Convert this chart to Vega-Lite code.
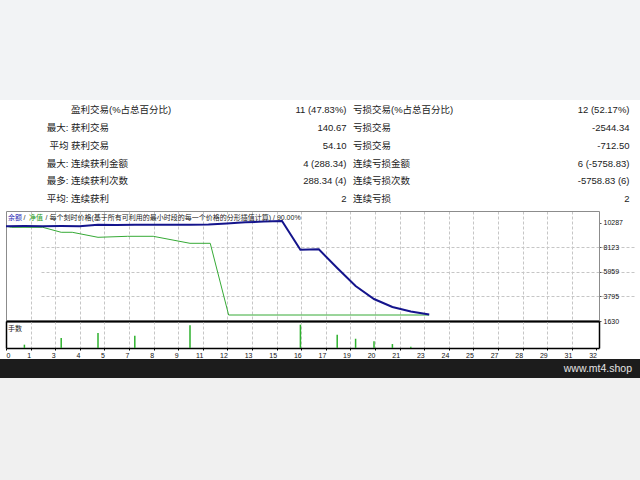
{
  "$schema": "https://vega.github.io/schema/vega-lite/v6.json",
  "background": "white",
  "padding": 0,
  "bounds": "flush",
  "spacing": 0,
  "config": {
    "view": {"stroke": null},
    "font": "Liberation Sans, Noto Sans CJK SC",
    "text": {"font": "Liberation Sans, Noto Sans CJK SC"}
  },
  "datasets": {
    "table": [
      {"row": 1, "col": 2, "text": "盈利交易(%占总百分比)"},
      {"row": 1, "col": 3, "text": "11 (47.83%)"},
      {"row": 1, "col": 4, "text": "亏损交易(%占总百分比)"},
      {"row": 1, "col": 5, "text": "12 (52.17%)"},
      {"row": 2, "col": 1, "text": "最大:"},
      {"row": 2, "col": 2, "text": "获利交易"},
      {"row": 2, "col": 3, "text": "140.67"},
      {"row": 2, "col": 4, "text": "亏损交易"},
      {"row": 2, "col": 5, "text": "-2544.34"},
      {"row": 3, "col": 1, "text": "平均"},
      {"row": 3, "col": 2, "text": "获利交易"},
      {"row": 3, "col": 3, "text": "54.10"},
      {"row": 3, "col": 4, "text": "亏损交易"},
      {"row": 3, "col": 5, "text": "-712.50"},
      {"row": 4, "col": 1, "text": "最大:"},
      {"row": 4, "col": 2, "text": "连续获利金额"},
      {"row": 4, "col": 3, "text": "4 (288.34)"},
      {"row": 4, "col": 4, "text": "连续亏损金额"},
      {"row": 4, "col": 5, "text": "6 (-5758.83)"},
      {"row": 5, "col": 1, "text": "最多:"},
      {"row": 5, "col": 2, "text": "连续获利次数"},
      {"row": 5, "col": 3, "text": "288.34 (4)"},
      {"row": 5, "col": 4, "text": "连续亏损次数"},
      {"row": 5, "col": 5, "text": "-5758.83 (6)"},
      {"row": 6, "col": 1, "text": "平均:"},
      {"row": 6, "col": 2, "text": "连续获利"},
      {"row": 6, "col": 3, "text": "2"},
      {"row": 6, "col": 4, "text": "连续亏损"},
      {"row": 6, "col": 5, "text": "2"}
    ],
    "curve": [
      {"series": "净值", "trade": 0, "value": 10000},
      {"series": "净值", "trade": 0.3, "value": 9905},
      {"series": "净值", "trade": 2.0, "value": 9905},
      {"series": "净值", "trade": 3.0, "value": 9466},
      {"series": "净值", "trade": 3.6, "value": 9466},
      {"series": "净值", "trade": 5.0, "value": 9024},
      {"series": "净值", "trade": 6.6, "value": 9112},
      {"series": "净值", "trade": 8.0, "value": 9112},
      {"series": "净值", "trade": 10.0, "value": 8494},
      {"series": "净值", "trade": 11.1, "value": 8494},
      {"series": "净值", "trade": 12.1, "value": 2160},
      {"series": "净值", "trade": 23.0, "value": 2160},
      {"series": "余额", "trade": 0, "value": 10000},
      {"series": "余额", "trade": 1, "value": 10012},
      {"series": "余额", "trade": 2, "value": 10004},
      {"series": "余额", "trade": 3, "value": 10020},
      {"series": "余额", "trade": 4, "value": 10008},
      {"series": "余额", "trade": 5, "value": 10125},
      {"series": "余额", "trade": 6, "value": 10118},
      {"series": "余额", "trade": 7, "value": 10134},
      {"series": "余额", "trade": 8, "value": 10122},
      {"series": "余额", "trade": 9, "value": 10140},
      {"series": "余额", "trade": 10, "value": 10132},
      {"series": "余额", "trade": 11, "value": 10150},
      {"series": "余额", "trade": 12, "value": 10245},
      {"series": "余额", "trade": 13, "value": 10345},
      {"series": "余额", "trade": 14, "value": 10410},
      {"series": "余额", "trade": 15, "value": 10465},
      {"series": "余额", "trade": 16, "value": 7921},
      {"series": "余额", "trade": 17, "value": 7964},
      {"series": "余额", "trade": 18, "value": 6312},
      {"series": "余额", "trade": 19, "value": 4722},
      {"series": "余额", "trade": 20, "value": 3573},
      {"series": "余额", "trade": 21, "value": 2867},
      {"series": "余额", "trade": 22, "value": 2469},
      {"series": "余额", "trade": 23, "value": 2206}
    ],
    "lots": [
      {"trade": 1, "lots": 0.037},
      {"trade": 3, "lots": 0.111},
      {"trade": 5, "lots": 0.167},
      {"trade": 7, "lots": 0.137},
      {"trade": 10, "lots": 0.252},
      {"trade": 16, "lots": 0.259},
      {"trade": 18, "lots": 0.148},
      {"trade": 19, "lots": 0.103},
      {"trade": 20, "lots": 0.074},
      {"trade": 21, "lots": 0.044},
      {"trade": 22, "lots": 0.015}
    ],
    "legend": [
      {"part": 1, "label": "余额"},
      {"part": 2, "label": "/"},
      {"part": 3, "label": "净值"},
      {"part": 4, "label": "/ 每个刻时价格(基于所有可利用的最小时段的每一个价格的分形插值计算) / 90.00%"}
    ]
  },
  "vconcat": [
    {
      "width": 640,
      "height": 100,
      "view": {"fill": "#f2f3f5", "stroke": null},
      "data": {"values": [{}]},
      "mark": {"type": "text"},
      "encoding": {"text": {"value": ""}}
    },
    {
      "width": 640,
      "height": 111,
      "data": {"name": "table"},
      "encoding": {
        "x": {"field": "col", "type": "quantitative", "axis": null,
          "scale": {"domain": [1, 2, 3, 4, 5], "range": [68.5, 71, 346.5, 353, 629.5], "nice": false, "zero": false}},
        "y": {"field": "row", "type": "quantitative", "axis": null,
          "scale": {"domain": [1, 6], "range": [10, 99.3], "nice": false, "zero": false}},
        "text": {"field": "text"}
      },
      "layer": [
        {
          "transform": [{"filter": "datum.col % 2 == 1"}],
          "mark": {"type": "text", "align": "right", "baseline": "middle", "fontSize": 9.5, "color": "#222"}
        },
        {
          "transform": [{"filter": "datum.col % 2 == 0"}],
          "mark": {"type": "text", "align": "left", "baseline": "middle", "fontSize": 9.5, "color": "#222"}
        }
      ]
    },
    {
      "width": 640,
      "height": 110,
      "layer": [
        {
          "data": {"name": "curve"},
          "transform": [{"filter": "datum.series == '净值'"}],
          "mark": {"type": "line", "color": "#36aa36", "strokeWidth": 1},
          "encoding": {
            "x": {"field": "trade", "type": "quantitative",
              "scale": {"domain": [0, 32.228], "range": [6, 599], "nice": false, "zero": false},
              "axis": {"orient": "top", "grid": false, "labels": false, "ticks": false, "domainColor": "#8c8c8c", "domainWidth": 1, "title": null}},
            "y": {"field": "value", "type": "quantitative",
              "scale": {"domain": [1630, 11347], "nice": false, "zero": false},
              "axis": {"orient": "left", "offset": -6, "grid": false, "labels": false, "ticks": false, "domainColor": "#8c8c8c", "domainWidth": 1, "title": null}}
          }
        },
        {
          "data": {"name": "curve"},
          "transform": [{"filter": "datum.series == '余额'"}],
          "mark": {"type": "line", "color": "#14148c", "strokeWidth": 2},
          "encoding": {
            "x": {"field": "trade", "type": "quantitative",
              "axis": {"orient": "bottom", "title": null, "labels": false, "ticks": false,
                "values": [1.337, 2.674, 4.011, 5.348, 6.685, 8.022, 9.359, 10.696, 12.033, 13.37, 14.707, 16.044, 17.381, 18.718, 20.055, 21.392, 22.729, 24.066, 25.403, 26.74, 28.077, 29.414, 30.751],
                "grid": true, "gridDash": [3, 2], "gridColor": "#c6c6c6", "gridWidth": 1,
                "domainColor": "#111", "domainWidth": 2}},
            "y": {"field": "value", "type": "quantitative",
              "axis": {"orient": "right", "offset": -41, "title": null, "format": "d",
                "values": [1630, 3795, 5959, 8123, 10287],
                "grid": true, "gridDash": [3, 2], "gridColor": "#c6c6c6", "gridWidth": 1,
                "gridOpacity": {"condition": {"test": "datum.value > 10000 || datum.value < 2000", "value": 0}, "value": 1},
                "domainColor": "#8c8c8c", "domainWidth": 1,
                "tickSize": 2, "tickColor": "#555",
                "labelFont": "Liberation Sans", "labelFontSize": 7, "labelColor": "#111", "labelPadding": 2,
                "labelFlush": false, "labelOverlap": false}}
          }
        },
        {
          "data": {"name": "legend"},
          "transform": [{"filter": "datum.part == 1"}],
          "mark": {"type": "text", "align": "left", "baseline": "middle", "fontSize": 7, "dx": 2, "dy": 7, "color": "#1e1eb4"},
          "encoding": {
            "x": {"datum": 0, "type": "quantitative", "axis": null},
            "y": {"datum": 11347, "type": "quantitative", "axis": null},
            "text": {"field": "label"}
          }
        },
        {
          "data": {"name": "legend"},
          "transform": [{"filter": "datum.part == 2"}],
          "mark": {"type": "text", "align": "left", "baseline": "middle", "fontSize": 7, "dx": 17.5, "dy": 7, "color": "#222"},
          "encoding": {
            "x": {"datum": 0, "type": "quantitative", "axis": null},
            "y": {"datum": 11347, "type": "quantitative", "axis": null},
            "text": {"field": "label"}
          }
        },
        {
          "data": {"name": "legend"},
          "transform": [{"filter": "datum.part == 3"}],
          "mark": {"type": "text", "align": "left", "baseline": "middle", "fontSize": 7, "dx": 23, "dy": 7, "color": "#1a9a1a"},
          "encoding": {
            "x": {"datum": 0, "type": "quantitative", "axis": null},
            "y": {"datum": 11347, "type": "quantitative", "axis": null},
            "text": {"field": "label"}
          }
        },
        {
          "data": {"name": "legend"},
          "transform": [{"filter": "datum.part == 4"}],
          "mark": {"type": "text", "align": "left", "baseline": "middle", "fontSize": 7, "dx": 39.5, "dy": 7, "color": "#222"},
          "encoding": {
            "x": {"datum": 0, "type": "quantitative", "axis": null},
            "y": {"datum": 11347, "type": "quantitative", "axis": null},
            "text": {"field": "label"}
          }
        }
      ]
    },
    {
      "width": 640,
      "height": 27,
      "layer": [
        {
          "data": {"name": "lots"},
          "mark": {"type": "rule", "color": "#2eb12e", "strokeWidth": 1.5},
          "encoding": {
            "x": {"field": "trade", "type": "quantitative",
              "scale": {"domain": [0, 32.228], "range": [6, 599], "nice": false, "zero": false},
              "axis": {"orient": "bottom", "title": null,
                "values": [0, 1.337, 2.674, 4.011, 5.348, 6.685, 8.022, 9.359, 10.696, 12.033, 13.37, 14.707, 16.044, 17.381, 18.718, 20.055, 21.392, 22.729, 24.066, 25.403, 26.74, 28.077, 29.414, 30.751, 32.088],
                "labelExpr": "'' + round(datum.value)",
                "grid": true, "gridDash": [3, 2], "gridColor": "#c6c6c6", "gridWidth": 1,
                "gridOpacity": {"condition": {"test": "datum.value > 32 || datum.value < 0.5", "value": 0}, "value": 1},
                "domainColor": "#000", "domainWidth": 1.5,
                "tickSize": 2, "tickColor": "#000",
                "labelFont": "Liberation Sans", "labelFontSize": 7, "labelColor": "#111", "labelPadding": 1,
                "labelBaseline": "top", "labelFlush": false, "labelOverlap": false,
                "labelAlign": {"condition": {"test": "datum.value < 0.5", "value": "left"}, "value": "right"}}},
            "y": {"field": "lots", "type": "quantitative",
              "scale": {"domain": [0, 0.3], "nice": false, "zero": false},
              "axis": {"orient": "left", "offset": -6, "grid": false, "labels": false, "ticks": false, "domainColor": "#000", "domainWidth": 1.5, "title": null}},
            "y2": {"datum": 0}
          }
        },
        {
          "data": {"values": [{"label": "手数"}]},
          "mark": {"type": "text", "align": "left", "baseline": "middle", "fontSize": 7, "dx": 2, "dy": 8, "color": "#222"},
          "encoding": {
            "x": {"datum": 0, "type": "quantitative",
              "axis": {"orient": "top", "grid": false, "labels": false, "ticks": false, "domainColor": "#000", "domainWidth": 1.5, "title": null}},
            "y": {"datum": 0.3, "type": "quantitative",
              "axis": {"orient": "right", "offset": -41, "grid": false, "labels": false, "ticks": false, "domainColor": "#000", "domainWidth": 1.5, "title": null}},
            "text": {"field": "label"}
          }
        }
      ]
    },
    {
      "width": 640,
      "height": 11,
      "data": {"values": [{}]},
      "mark": {"type": "text"},
      "encoding": {"text": {"value": ""}}
    },
    {
      "width": 640,
      "height": 19,
      "view": {"fill": "#1c1c1c", "stroke": null},
      "data": {"values": [{"site": "www.mt4.shop"}]},
      "mark": {"type": "text", "align": "right", "baseline": "middle", "fontSize": 10.5, "dx": -8, "color": "#e4e4e4", "font": "Liberation Sans"},
      "encoding": {
        "x": {"datum": 1, "type": "quantitative", "scale": {"domain": [0, 1], "nice": false}, "axis": null},
        "text": {"field": "site"}
      }
    },
    {
      "width": 640,
      "height": 102,
      "view": {"fill": "#f0f0f0", "stroke": null},
      "data": {"values": [{}]},
      "mark": {"type": "text"},
      "encoding": {"text": {"value": ""}}
    }
  ]
}
